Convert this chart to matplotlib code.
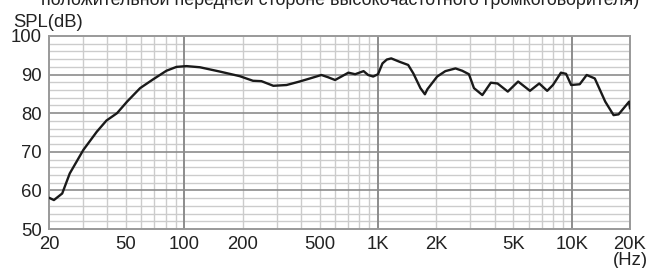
import numpy as np
import matplotlib
matplotlib.use('Agg')
import matplotlib.pyplot as plt

plt.rcParams['font.family'] = ['Liberation Sans', 'DejaVu Sans']

# frequency response
freq = [20.2, 21.2, 23.4, 25.6, 30.1, 35.3, 39.6, 44.9, 50.6, 59.1, 69.1, 80.8, 91.1,
        102.6, 120.3, 152, 193, 226, 250, 288, 337, 393, 445, 510, 553, 600, 647,
        703, 762, 842, 889, 944, 1000, 1054, 1110, 1170, 1295, 1431, 1522, 1655, 1746,
        1798, 2020, 2227, 2512, 2720, 2947, 3128, 3457, 3823, 4140, 4678, 5289,
        6088, 6797, 7472, 8000, 8800, 9350, 9940, 11000, 11950, 13160, 14900,
        16450, 17460, 19800, 20000]
spl = [58.0, 57.5, 59.2, 64.4, 70.5, 75.2, 78.1, 80.0, 83.0, 86.5, 88.8, 91.0, 92.0,
       92.2, 91.9, 90.8, 89.6, 88.4, 88.3, 87.1, 87.3, 88.2, 89.0, 89.9, 89.3, 88.6, 89.5,
       90.5, 90.1, 90.9, 89.9, 89.5, 90.1, 92.9, 93.9, 94.2, 93.3, 92.5, 90.3, 86.5, 84.9,
       86.2, 89.5, 90.9, 91.6, 91.0, 90.1, 86.5, 84.7, 87.9, 87.7, 85.6, 88.2,
       85.8, 87.7, 85.8, 87.3, 90.5, 90.2, 87.3, 87.5, 89.9, 89.0, 83.0,
       79.5, 79.7, 83.0, 81.3]

xticks = [20, 50, 100, 200, 500, 1000, 2000, 5000, 10000, 20000]
xlabels = ['20', '50', '100', '200', '500', '1K', '2K', '5K', '10K', '20K']
yticks = [50, 60, 70, 80, 90, 100]

title = 'положительной передней стороне высокочастотного громкоговорителя)'
fs = 13.3

fig = plt.figure(figsize=(6.51, 2.68), dpi=100)
ax = fig.add_axes([49/651, 39/268, 581/651, 193/268])
ax.set_xscale('log')
ax.set_xlim(20, 20000)
ax.set_ylim(50, 100)

# grid
for dec in [10, 100, 1000, 10000]:
    for m in range(1, 10):
        f = dec * m
        if f <= 20 or f >= 20000:
            continue
        if m == 1:
            ax.axvline(f, color='#8c8c8c', lw=1.4, zorder=1)
        else:
            ax.axvline(f, color='#cccccc', lw=1.0, zorder=0)
for v in range(52, 100, 2):
    if v % 10 == 0:
        ax.axhline(v, color='#8c8c8c', lw=1.2, zorder=1)
    else:
        ax.axhline(v, color='#cccccc', lw=1.0, zorder=0)

ax.plot(freq, spl, color='#1a1a1a', lw=1.7, zorder=3, solid_joinstyle='round')

ax.set_xticks(xticks)
ax.set_xticklabels(xlabels)
ax.xaxis.set_minor_locator(matplotlib.ticker.NullLocator())
ax.set_yticks(yticks)
ax.tick_params(length=0, labelsize=fs, colors='#222222')
ax.tick_params(axis='x', pad=5)
ax.tick_params(axis='y', pad=5)
for s in ax.spines.values():
    s.set_color('#999999')
    s.set_linewidth(1.4)

fig.text(13/651, 1 - 27/268, 'SPL(dB)', fontsize=fs, color='#222222', va='baseline')
fig.text(648/651, 1 - 265/268, '(Hz)', fontsize=fs, color='#222222', ha='right', va='baseline')
fig.text(41/651, 1 - 5/268, title, fontsize=12.9, color='#222222', va='baseline')

fig.savefig('out.png', dpi=100)
